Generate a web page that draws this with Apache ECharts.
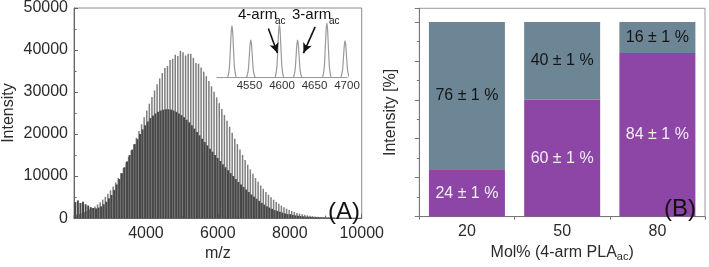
<!DOCTYPE html>
<html><head><meta charset="utf-8">
<script src="https://cdn.jsdelivr.net/npm/echarts@6/dist/echarts.min.js"></script>
<style>html,body{margin:0;padding:0;background:#fff}#c{width:709px;height:267px}</style>
</head><body><div id="c"></div>
<script>
// ---- Panel A: MALDI spectrum (peak positions of the 4-arm series, m/z) ----
const mz = [2007,2079,2151,2223,2295,2367,2439,2511,2583,2655,2727,2799,2871,2943,3015,3087,3159,3231,3303,3375,3447,3519,3591,3663,3735,3807,3879,3951,4023,4095,4167,4239,4311,4383,4455,4527,4599,4671,4743,4815,4887,4959,5031,5103,5175,5247,5319,5391,5463,5535,5607,5679,5751,5823,5895,5967,6039,6111,6183,6255,6327,6399,6471,6543,6615,6687,6759,6831,6903,6975,7047,7119,7191,7263,7335,7407,7479,7551,7623,7695,7767,7839,7911,7983,8055,8127,8199,8271,8343,8415,8487,8559,8631,8703,8775,8847,8919,8991,9063,9135,9207];
// 4-arm (tall, light) peak intensities
const arm4Intensity = [680,825,995,1200,1430,1700,2020,2380,2790,3260,3790,4390,5050,5800,6620,7510,8490,9550,10700,11920,13230,14600,16060,17570,19120,20720,22340,23980,25620,27240,28830,30370,31850,33230,34520,35700,36200,37600,37900,38890,38600,39800,39490,38700,39090,39100,38150,36900,36730,35840,34850,33770,32610,31370,30080,28740,27370,25970,24560,23140,21730,20340,18970,17620,16320,15060,13840,12690,11580,10540,9550,8630,7770,6970,6240,5560,4940,4370,3850,3390,2970,2590,2250,1950,1690,1450,1240,1070,910,770,650,550,465,390,325,270,225,185,150,125,105];
// 3-arm (dark) peak intensities, shifted by arm3Offset in m/z
const arm3Intensity = [3800,4200,3600,3900,3300,3000,2600,2400,2300,2500,2800,3300,3900,4700,5500,6700,8000,9300,10700,12100,13500,15000,16300,17600,18800,20000,21100,22100,23000,23800,24400,24900,25300,25600,25800,25900,25900,25800,25600,25300,24900,24500,24000,23400,22800,22100,21300,20500,19700,18900,18100,17300,16500,15800,15000,14300,13600,12800,12100,11400,10700,10000,9300,8600,8000,7400,6800,6200,5600,5100,4600,4100,3600,3200,2800,2500,2200,1900,1700,1500,1300,1100,950,850,750,650,560,480,420,370,330,290,260,230,200,180,160,140,120,110,100];
const arm3Offset = 28;

// ---- Inset ----
const insetCenters = [4523, 4552, 4596, 4624, 4669, 4697];
const insetHeights = [0.97, 0.70, 0.99, 0.70, 1.02, 0.69];
const profileOffset = [-8,-6,-4,-3,-2,-1,0,1,2,3,4,6,8];
const profileFrac   = [0,0.03,0.19,0.39,0.66,0.9,1,0.9,0.66,0.39,0.19,0.03,0];
const arrows = [ [[4579,0.92],[4593,0.46]], [[4651,0.95],[4633,0.46]] ];

// ---- Panel B ----
const molCategories = ['20', '50', '80'];
const arm4Percent = [24, 60, 84];
const arm3Percent = [76, 40, 16];

const FONT = 'Liberation Sans, Arial, sans-serif';
const TXT = '#2b2b2b';

const arm4Data = mz.map((m, i) => [m, arm4Intensity[i]]);
const arm3Data = mz.map((m, i) => [m + arm3Offset, arm3Intensity[i]]);
const insetData = [[4500, 0]];
insetCenters.forEach((c, i) => {
  profileOffset.forEach((o, j) => insetData.push([c + o, insetHeights[i] * profileFrac[j]]));
});
insetData.push([4710, 0]);

const chart = echarts.init(document.getElementById('c'), null, {renderer: 'canvas'});
chart.setOption({
  animation: false,
  backgroundColor: '#fff',
  textStyle: {fontFamily: FONT},
  grid: [
    {left: 74, top: 7.5, width: 287.7, height: 215.2, show: true, borderColor: '#8c8c8c', borderWidth: 1, backgroundColor: 'transparent'},
    {left: 217, top: 18.8, width: 130, height: 58.9},
    {left: 419.3, top: 8.3, width: 285.7, height: 215.7, show: true, borderColor: '#9a9a9a', borderWidth: 1}
  ],
  xAxis: [
    {gridIndex: 0, type: 'value', min: 2000, max: 10000, interval: 2000,
      axisLine: {show: true, lineStyle: {color: '#666'}},
      axisTick: {show: true, inside: true, length: 4, lineStyle: {color: '#666'}},
      minorTick: {show: true, splitNumber: 2, length: 2.5, lineStyle: {color: '#666'}},
      splitLine: {show: false},
      axisLabel: {fontSize: 16, color: TXT, fontFamily: FONT, margin: 7,
        formatter: v => (v === 2000 ? '' : String(v))},
      name: 'm/z', nameLocation: 'middle', nameGap: 21,
      nameTextStyle: {fontSize: 16, color: TXT, fontFamily: FONT}},
    {gridIndex: 0, type: 'value', min: 2000, max: 10000, show: false},
    {gridIndex: 1, type: 'value', min: 4500, max: 4700, interval: 50,
      axisLine: {show: true, lineStyle: {color: '#999'}},
      axisTick: {show: false}, splitLine: {show: false},
      axisLabel: {fontSize: 11.5, color: '#333', margin: 2, fontFamily: FONT,
        formatter: v => (v === 4500 ? '' : String(v))}},
    {gridIndex: 2, type: 'category', data: molCategories,
      axisLine: {show: true, lineStyle: {color: '#777'}},
      axisTick: {show: true, length: 3, lineStyle: {color: '#777'}},
      axisLabel: {fontSize: 16, color: TXT, margin: 7, fontFamily: FONT},
      name: '{a|Mol% (4-arm PLA}{s|ac}{a|)}', nameLocation: 'middle', nameGap: 23,
      nameTextStyle: {rich: {a: {fontSize: 16, color: TXT, fontFamily: FONT}, s: {fontSize: 11, color: TXT, fontFamily: FONT, padding: [8, 0, 0, 0]}}}}
  ],
  yAxis: [
    {gridIndex: 0, type: 'value', min: 0, max: 50000, interval: 10000,
      axisLine: {show: true, lineStyle: {color: '#666'}},
      axisTick: {show: true, inside: true, length: 4, lineStyle: {color: '#666'}},
      minorTick: {show: true, splitNumber: 2, length: 2.5, lineStyle: {color: '#666'}},
      splitLine: {show: false},
      axisLabel: {fontSize: 16, color: TXT, margin: 6, fontFamily: FONT, formatter: v => String(v)},
      name: 'Intensity', nameLocation: 'middle', nameGap: 57, nameRotate: 90,
      nameTextStyle: {fontSize: 16, color: TXT, fontFamily: FONT}},
    {gridIndex: 0, type: 'value', min: 0, max: 50000, show: false},
    {gridIndex: 1, type: 'value', min: 0, max: 1.1, show: false},
    {gridIndex: 2, type: 'value', min: 0, max: 107, interval: 20,
      axisLine: {show: true, lineStyle: {color: '#777'}},
      axisTick: {show: true, length: 4.5, lineStyle: {color: '#777'}},
      minorTick: {show: true, splitNumber: 2, length: 2.5, lineStyle: {color: '#777'}},
      splitLine: {show: false}, axisLabel: {show: false},
      name: 'Intensity [%]', nameLocation: 'middle', nameGap: 21, nameRotate: 90,
      nameTextStyle: {fontSize: 16, color: TXT, fontFamily: FONT}}
  ],
  series: [
    {type: 'bar', xAxisIndex: 0, yAxisIndex: 0, data: arm4Data, barWidth: 1.5,
      itemStyle: {color: '#7e7e7e'}, silent: true},
    {type: 'bar', xAxisIndex: 1, yAxisIndex: 1, data: arm3Data, barWidth: 2,
      itemStyle: {color: '#474747'}, silent: true},
    {type: 'line', xAxisIndex: 2, yAxisIndex: 2, data: insetData, showSymbol: false, smooth: 0.3,
      lineStyle: {color: '#9a9a9a', width: 1.2}, silent: true,
      markLine: {silent: true, symbol: ['none', 'arrow'], symbolSize: [7, 10], label: {show: false},
        lineStyle: {color: '#111', width: 1.6, type: 'solid'},
        data: arrows.map(a => [{coord: a[0]}, {coord: a[1]}])}},
    {type: 'bar', xAxisIndex: 3, yAxisIndex: 3, stack: 'p', data: arm4Percent, barWidth: 76,
      itemStyle: {color: '#8d46a6'},
      label: {show: true, position: 'inside', formatter: '{c} ± 1 %', fontSize: 16, color: '#f4eef7', fontFamily: FONT}},
    {type: 'bar', xAxisIndex: 3, yAxisIndex: 3, stack: 'p', data: arm3Percent, barWidth: 76,
      itemStyle: {color: '#6d8696'},
      label: {show: true, position: 'inside', formatter: '{c} ± 1 %', fontSize: 16, color: '#151515', fontFamily: FONT}}
  ],
  graphic: [
    {type: 'text', z: 100, left: 328, top: 200, style: {text: '(A)', fill: '#111', font: '24px ' + FONT}},
    {type: 'text', z: 100, left: 664, top: 197, style: {text: '(B)', fill: '#111', font: '24px ' + FONT}},
    {type: 'text', z: 100, left: 238, top: 7, style: {text: '4-arm', fill: '#111', font: '15px ' + FONT}},
    {type: 'text', z: 100, left: 275, top: 16, style: {text: 'ac', fill: '#111', font: '10px ' + FONT}},
    {type: 'text', z: 100, left: 292, top: 7, style: {text: '3-arm', fill: '#111', font: '15px ' + FONT}},
    {type: 'text', z: 100, left: 329, top: 16, style: {text: 'ac', fill: '#111', font: '10px ' + FONT}}
  ]
});
</script></body></html>
